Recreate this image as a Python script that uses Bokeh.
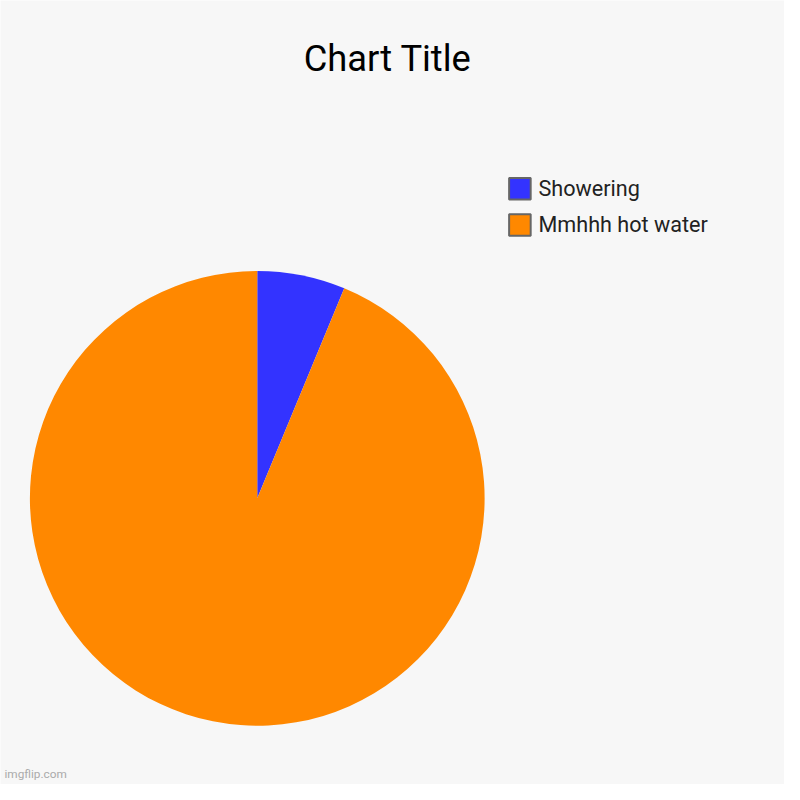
import math
from bokeh.plotting import figure
from bokeh.models import Range1d, Label, ColumnDataSource
from bokeh.core.properties import value
from bokeh.embed import file_html
from bokeh.resources import INLINE

# ---- data ----
categories = ["Showering", "Mmhhh hot water"]
values = [1, 15]
colors = ["#3333ff", "#ff8800"]
title_text = "Chart Title"
watermark = "imgflip.com"

BG = "#f7f7f7"
FONT = "Roboto"
W = 784
S = W / 800.0  # screen px per reference px

def fs(px):
    return f"{px * S:.1f}px"

# data coords = reference pixel coords (x right, y = 800 - ref_y)
p = figure(width=W, height=W, output_backend="svg", toolbar_location=None,
           x_range=Range1d(0, 800), y_range=Range1d(0, 800),
           min_border=0, background_fill_color=BG, border_fill_color=BG)
p.axis.visible = False
p.grid.visible = False
p.outline_line_color = None

# ---- pie ----
total = sum(values)
starts, ends = [], []
cum = 0.0
for v in values:
    starts.append(math.pi / 2 - 2 * math.pi * cum / total)
    cum += v
    ends.append(math.pi / 2 - 2 * math.pi * cum / total)

src = ColumnDataSource(dict(cat=categories, val=values, color=colors,
                            start=starts, end=ends))
p.wedge(x=262, y=800 - 508, radius=232, start_angle="start", end_angle="end",
        direction="clock", fill_color="color", line_color=None, source=src)

# ---- legend (manual) ----
leg_y = [800 - 192, 800 - 229]
lsrc = ColumnDataSource(dict(y=leg_y, color=colors, label=categories))
p.rect(x=530, y="y", width=22, height=22, fill_color="color",
       line_color="#666666", line_width=2, source=lsrc)
p.text(x=549, y="y", text="label", text_font=value(FONT), text_font_size=fs(22),
       text_baseline="middle", text_align="left", text_color="#222222", source=lsrc)

# ---- title ----
p.add_layout(Label(x=395, y=800 - 59, text=title_text, text_font=FONT,
                   text_font_size=fs(37), text_align="center",
                   text_baseline="alphabetic", text_color="#000000"))

# ---- watermark ----
p.add_layout(Label(x=4, y=800 - 789, text=watermark, text_font=FONT,
                   text_font_size=fs(12), text_align="left",
                   text_baseline="alphabetic", text_color="#aaaaaa"))

open("out.html", "w").write(file_html(p, INLINE))
